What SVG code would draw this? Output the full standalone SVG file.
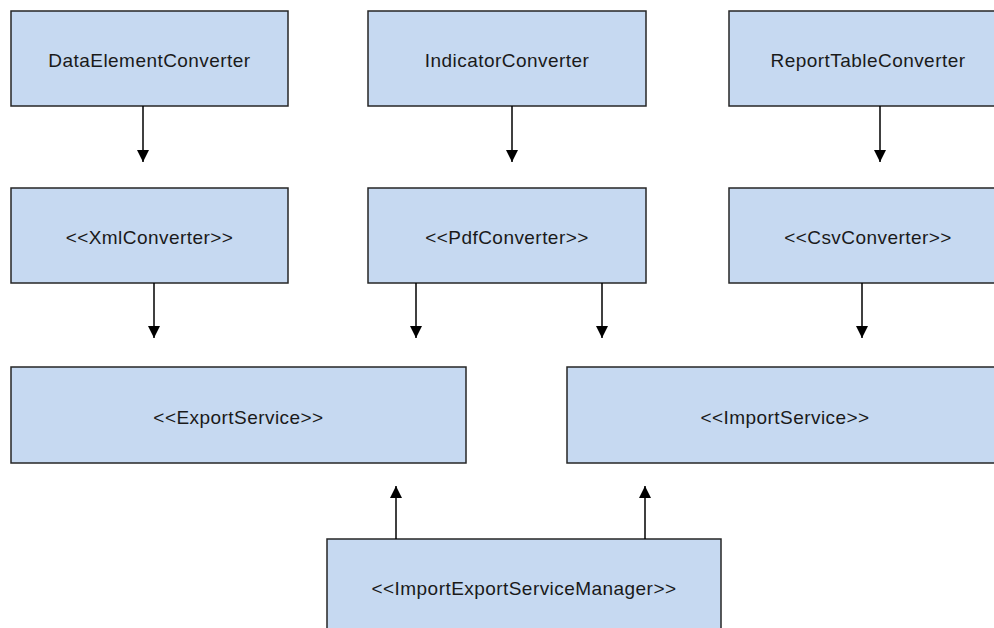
<svg xmlns="http://www.w3.org/2000/svg" width="994" height="628" viewBox="0 0 994 628">
<defs>
<style>
.box{fill:#c6d9f1;stroke:#262626;stroke-width:1.5}
.lbl{font-family:"Liberation Sans",Arial,sans-serif;font-size:19px;letter-spacing:0.45px;fill:#1a1a1a;text-anchor:middle}
.edge{stroke:#000;stroke-width:1.5;fill:none}
</style>
<marker id="ah" viewBox="0 0 12 12" refX="12" refY="6" markerWidth="12" markerHeight="12" markerUnits="userSpaceOnUse" orient="auto">
<path d="M0,0 L12,6 L0,12 Z" fill="#000"/>
</marker>
</defs>
<rect width="994" height="628" fill="#fff"/>
<g id="dataElementConverter"><rect class="box" x="11" y="11" width="277" height="95"/><text class="lbl" x="149.5" y="66.5">DataElementConverter</text></g>
<g id="indicatorConverter"><rect class="box" x="368" y="11" width="278" height="95"/><text class="lbl" x="507" y="66.5">IndicatorConverter</text></g>
<g id="reportTableConverter"><rect class="box" x="729" y="11" width="278" height="95"/><text class="lbl" x="868" y="66.5">ReportTableConverter</text></g>
<g id="xmlConverter"><rect class="box" x="11" y="188" width="277" height="95"/><text class="lbl" x="149.5" y="243.5">&lt;&lt;XmlConverter&gt;&gt;</text></g>
<g id="pdfConverter"><rect class="box" x="368" y="188" width="278" height="95"/><text class="lbl" x="507" y="243.5">&lt;&lt;PdfConverter&gt;&gt;</text></g>
<g id="csvConverter"><rect class="box" x="729" y="188" width="278" height="95"/><text class="lbl" x="868" y="243.5">&lt;&lt;CsvConverter&gt;&gt;</text></g>
<g id="exportService"><rect class="box" x="11" y="367" width="455" height="96"/><text class="lbl" x="238.5" y="423.5">&lt;&lt;ExportService&gt;&gt;</text></g>
<g id="importService"><rect class="box" x="567" y="367" width="440" height="96"/><text class="lbl" x="785" y="423.5">&lt;&lt;ImportService&gt;&gt;</text></g>
<g id="importExportServiceManager"><rect class="box" x="327" y="539" width="394" height="100"/><text class="lbl" x="524" y="595">&lt;&lt;ImportExportServiceManager&gt;&gt;</text></g>
<g id="connectors">
<line class="edge" x1="143" y1="106" x2="143" y2="162" marker-end="url(#ah)"/>
<line class="edge" x1="512" y1="106" x2="512" y2="162" marker-end="url(#ah)"/>
<line class="edge" x1="880" y1="106" x2="880" y2="162" marker-end="url(#ah)"/>
<line class="edge" x1="154" y1="283" x2="154" y2="338" marker-end="url(#ah)"/>
<line class="edge" x1="416" y1="283" x2="416" y2="338" marker-end="url(#ah)"/>
<line class="edge" x1="602" y1="283" x2="602" y2="338" marker-end="url(#ah)"/>
<line class="edge" x1="862" y1="283" x2="862" y2="338" marker-end="url(#ah)"/>
<line class="edge" x1="396" y1="539" x2="396" y2="486" marker-end="url(#ah)"/>
<line class="edge" x1="645" y1="539" x2="645" y2="486" marker-end="url(#ah)"/>
</g>
</svg>
